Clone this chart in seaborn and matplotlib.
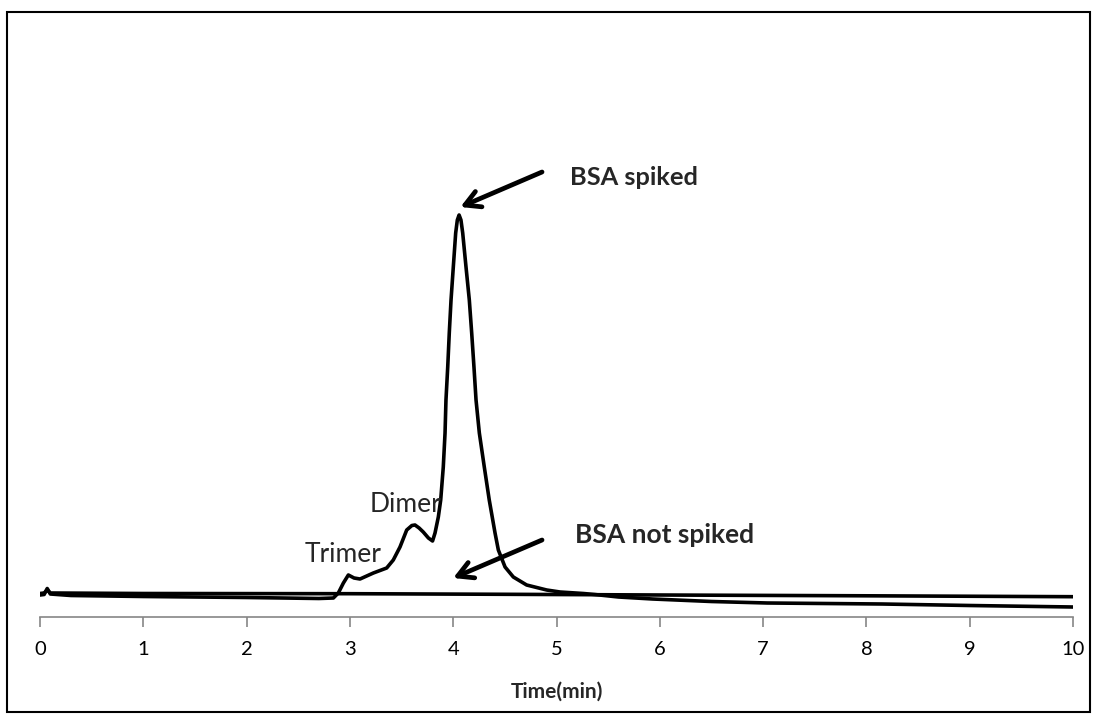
import matplotlib
matplotlib.use("Agg")
import matplotlib.pyplot as plt
from matplotlib.patches import Rectangle
import seaborn as sns
import pandas as pd

# Spiked sample chromatogram (time in min, signal in arbitrary units)
spiked_time = [0.00, 0.04, 0.07, 0.10, 0.30, 1.00, 2.00, 2.70, 2.84, 2.888, 2.937, 2.985,
               3.04, 3.098, 3.227, 3.356, 3.42, 3.485, 3.55, 3.60, 3.63, 3.67, 3.71, 3.76,
               3.80, 3.824, 3.856, 3.879, 3.904, 3.921, 3.930, 3.947, 3.962, 3.979, 4.001,
               4.024, 4.040, 4.057, 4.075, 4.092, 4.124, 4.156, 4.179, 4.201, 4.221, 4.253,
               4.301, 4.349, 4.405, 4.437, 4.502, 4.582, 4.711, 4.905, 5.034, 5.26, 5.37,
               5.60, 5.93, 6.50, 7.04, 8.15, 9.00, 10.00]
spiked_signal = [22, 22.5, 28.5, 23, 21.5, 20.5, 19.5, 18.5, 19, 24, 34, 42,
                 39, 38, 44, 49, 57, 70, 87, 91.5, 92, 89, 85, 79,
                 76, 84, 100, 117, 150, 184, 217, 250, 284, 317, 350,
                 384, 397, 402, 397, 384, 350, 317, 284, 250, 217, 184,
                 150, 117, 84, 67, 50, 40, 32, 27, 25, 23.5, 22.5,
                 20, 18, 15.5, 14, 13, 11.5, 10]

# Non-spiked sample chromatogram
plain_time = [0.00, 0.04, 0.07, 0.10, 1.00, 3.00, 4.50, 6.00, 8.00, 10.00]
plain_signal = [23.5, 24, 27, 24, 23.5, 23.3, 22.7, 22.0, 21.2, 20.3]

x_ticks = [0, 1, 2, 3, 4, 5, 6, 7, 8, 9, 10]
x_label = "Time(min)"
peak_labels = ["Trimer", "Dimer"]
callouts = ["BSA spiked", "BSA not spiked"]

sns.set_theme(style="white")
plt.rcParams['font.family'] = ['Lato', 'DejaVu Sans']

W, H = 1098, 720
fig = plt.figure(figsize=(W / 100, H / 100), dpi=100)
ax = fig.add_axes([40 / W, 1 - 617 / H, (1073 - 40) / W, (617 - 40) / H])

df_s = pd.DataFrame({"t": spiked_time, "v": spiked_signal})
df_p = pd.DataFrame({"t": plain_time, "v": plain_signal})
sns.lineplot(data=df_p, x="t", y="v", ax=ax, color="black", lw=2.6, sort=False,
             solid_joinstyle="round")
sns.lineplot(data=df_s, x="t", y="v", ax=ax, color="black", lw=2.6, sort=False,
             solid_joinstyle="round")

ax.set_xlim(0, 10)
ax.set_ylim(0, 577)
ax.set_xticks(x_ticks)
ax.set_xticklabels([str(t) for t in x_ticks], fontsize=14.5)
ax.set_yticks([])
ax.set_ylabel("")
ax.set_xlabel(x_label, fontsize=15, fontweight="bold", labelpad=17)
for s in ["left", "right", "top"]:
    ax.spines[s].set_visible(False)
ax.spines["bottom"].set_color("#868686")
ax.spines["bottom"].set_linewidth(1.2)
ax.tick_params(axis="x", direction="out", length=7, width=1.2, color="#868686",
               bottom=True, pad=10, labelcolor="black")

# peak labels
ax.text(2.56, 55, peak_labels[0], fontsize=19, ha="left", va="baseline")
ax.text(3.19, 105, peak_labels[1], fontsize=19, ha="left", va="baseline")

# call-outs with arrows
arrow_kw = dict(arrowstyle="->,head_length=0.9,head_width=0.5", lw=3.4, color="black",
                shrinkA=0, shrinkB=0)
ax.annotate("", xy=(4.07, 410), xytext=(4.86, 445), arrowprops=arrow_kw)
ax.text(5.13, 432, callouts[0], fontsize=18.3, fontweight="bold", ha="left", va="baseline")
ax.annotate("", xy=(4.0, 39), xytext=(4.86, 77), arrowprops=arrow_kw)
ax.text(5.18, 74, callouts[1], fontsize=19, fontweight="bold", ha="left", va="baseline")

# outer frame
fig.add_artist(Rectangle((7 / W, 1 - 712 / H), (1090 - 7) / W, (712 - 12) / H,
                         transform=fig.transFigure, fill=False, edgecolor="black", lw=1.5))

fig.savefig("out.png", dpi=100, facecolor="white")
